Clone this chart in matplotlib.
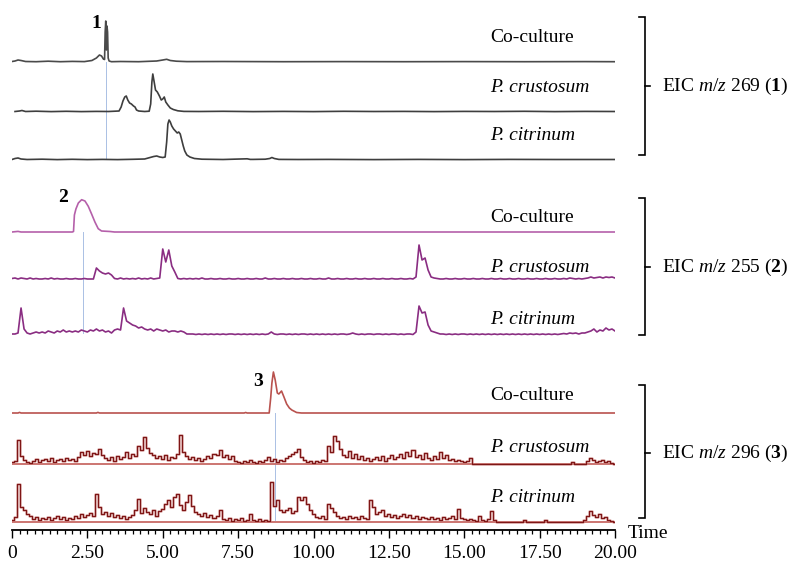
import numpy as np
import matplotlib
matplotlib.use("Agg")
import matplotlib.pyplot as plt

plt.rcParams['font.family'] = ['Liberation Serif', 'DejaVu Serif']
plt.rcParams['mathtext.fontset'] = 'custom'
plt.rcParams['mathtext.rm'] = 'Liberation Serif'
plt.rcParams['mathtext.it'] = 'Liberation Serif:italic'
plt.rcParams['mathtext.bf'] = 'Liberation Serif:bold'

# ---- data (retention time in min, intensity in relative units) ----
grid_t = np.round(np.arange(201) * 0.1, 1)   # 0.0 .. 20.0 min sampling

# EIC m/z 269 (1)
g1_co_t = [0, 0.1, 0.2, 0.3, 0.45, 0.8, 1.2, 1.6, 2.0, 2.4, 2.65, 2.8, 2.9, 2.97, 3.03, 3.07,
           3.09, 3.11, 3.13, 3.15, 3.17, 3.19, 3.22, 3.3, 3.6, 4.2, 4.8, 5.0, 5.13, 5.25, 5.45,
           5.8, 7, 9, 11, 13, 15, 17, 19, 20]
g1_co_h = [0.5, 1, 2, 1.5, 0.5, 0.3, 0.8, 0.3, 0.6, 0.4, 1.5, 4, 7, 6, 3, 2.5,
           30, 41, 12, 36, 30, 4, 1, 0.3, 0.5, 0.3, 1, 2, 2.7, 1.5, 0.8,
           0.4, 0.5, 0.3, 0.4, 0.3, 0.4, 0.3, 0.4, 0.3]

g1_cr_t = [0.1, 0.25, 0.33, 0.45, 0.8, 1.3, 1.8, 2.3, 2.8, 3.2, 3.55, 3.62, 3.68, 3.74, 3.79,
           3.84, 3.9, 3.96, 4.03, 4.08, 4.13, 4.2, 4.4, 4.55, 4.6, 4.64, 4.67, 4.71, 4.76, 4.82,
           4.89, 4.95, 5.0, 5.05, 5.1, 5.17, 5.25, 5.35, 5.5, 5.7, 6.2, 7, 8, 9, 10, 11, 12,
           13, 14, 15, 16, 17, 18, 19, 20]
g1_cr_h = [0.5, 1, 1.5, 0.5, 0.8, 0.4, 0.7, 0.4, 0.6, 0.5, 1, 5, 11, 15, 16,
           12, 9, 8, 6, 5, 2, 1, 0.5, 0.8, 8, 30, 38, 31, 22, 20,
           16, 12, 13, 15, 10, 7, 4, 2.5, 1.2, 0.6, 0.5, 0.7, 0.4, 0.6, 0.4, 0.7, 0.5,
           0.6, 0.4, 0.6, 0.5, 0.7, 0.4, 0.6, 0.5]

g1_ci_t = [0, 0.1, 0.2, 0.3, 0.5, 1, 1.5, 2, 2.5, 3, 3.5, 4, 4.4, 4.7, 4.8, 4.9, 5.0, 5.08,
           5.13, 5.17, 5.21, 5.25, 5.3, 5.36, 5.42, 5.48, 5.53, 5.58, 5.63, 5.68, 5.73, 5.8,
           5.9, 6.05, 6.3, 7, 7.8, 7.9, 8.0, 8.4, 8.55, 8.62, 8.7, 8.85, 9.5, 10.5, 12, 13.5,
           15, 16.5, 18, 19, 20]
g1_ci_h = [0.5, 1.5, 2, 1, 0.5, 0.8, 0.4, 0.7, 0.4, 0.6, 0.4, 0.7, 1, 3.5, 4, 3, 2.5, 3,
           18, 36, 40, 38, 34, 31, 29, 27, 28, 26, 20, 14, 9, 5,
           3, 1.5, 0.8, 0.5, 1.2, 0.6, 0.6, 0.8, 1.5, 2.5, 1.5, 0.6, 0.5, 0.6, 0.4, 0.6,
           0.4, 0.6, 0.5, 0.5, 0.5]

# EIC m/z 255 (2)
g2_co_t = [0, 0.2, 0.3, 1.0, 2.0, 2.04, 2.07, 2.12, 2.2, 2.31, 2.42, 2.53, 2.64, 2.75, 2.86,
           2.97, 3.25, 3.4, 20]
g2_co_h = [0, 0.6, 0, 0, 0, 0.5, 17, 23, 29, 32.3, 31, 25.7, 18, 10, 3.3,
           1, 0.5, 0, 0]

g2_cr_h = [1.5, 2, 1, 2, 1.5, 1, 2, 1, 1.5, 1,
           1, 1.5, 1, 2, 1, 1.5, 1, 1, 1.5, 1,
           1, 1.5, 1, 1, 1.5, 1, 1, 1, 12, 9,
           7, 6, 7, 5, 1.5, 1, 2, 1, 1.5, 1,
           1.5, 1, 2, 1, 1.5, 1, 2, 1, 1.5, 2,
           31, 18, 30, 14, 8, 1.5, 1, 1.5, 1, 1.5,
           1, 1.5, 1, 2, 1, 1, 1.5, 1, 1, 1.5,
           1, 1, 1.5, 1, 1, 1.5, 1, 1, 1.5, 1,
           1, 1.5, 1, 1, 2, 1, 1, 1.5, 1, 1,
           1.5, 1, 1, 1.5, 1, 1, 1.5, 1, 1, 1.5,
           1, 1, 1.5, 1, 1, 2, 1, 1, 1.5, 1,
           1, 1.5, 1, 1, 1.5, 1, 1, 1.5, 1, 1,
           1.5, 1, 1, 1.5, 1, 1, 1.5, 1, 1, 1.5,
           1, 1, 1.5, 1, 3, 35, 20, 22, 10, 3,
           2, 1.5, 1, 1, 1.5, 1, 1, 1.5, 1, 1,
           1.5, 1, 1, 1.5, 1, 1, 1.5, 1, 1, 1.5,
           1, 1, 1.5, 1, 1, 1.5, 1, 1, 1.5, 1,
           1, 1.5, 1, 1, 1.5, 1, 1, 1.5, 1, 1,
           1.5, 1, 1, 1.5, 1, 2, 1.5, 1, 1.5, 1,
           1.5, 2, 3, 2, 2.5, 3, 2, 3, 2.5, 3,
           2]

g2_ci_h = [1, 1, 2, 27, 6, 2, 1, 2, 3, 2,
           3, 2, 4, 3, 2, 4, 3, 5, 3, 4,
           3, 4, 3, 5, 4, 3, 5, 4, 6, 4,
           5, 3, 4, 2, 5, 6, 5, 27, 14, 12,
           10, 9, 7, 8, 6, 5, 6, 4, 6, 5,
           4, 5, 3, 4, 4, 3, 4, 3, 1, 1,
           1, 0.5, 1, 0.5, 1, 0.5, 1, 0.5, 1, 0.5,
           1, 0.5, 1, 1, 0.5, 1, 0.5, 1, 0.5, 1,
           0.5, 1, 0.5, 1, 0.5, 1, 3, 1, 0.5, 1,
           1, 0.5, 1, 0.5, 1, 0.5, 1, 1, 0.5, 1,
           0.5, 1, 0.5, 1, 0.5, 1, 0.5, 1, 0.5, 1,
           1, 0.5, 1, 2, 1, 0.5, 1, 0.5, 1, 1,
           0.5, 1, 1, 0.5, 1, 0.5, 1, 1, 0.5, 1,
           0.5, 1, 1, 0.5, 3, 29, 22, 23, 10, 4,
           3, 2, 1, 1, 0.5, 1, 0.5, 1, 0.5, 1,
           1, 0.5, 1, 0.5, 1, 0.5, 1, 0.5, 1, 0.5,
           1, 0.5, 1, 0.5, 1, 0.5, 1, 0.5, 1, 0.5,
           1, 0.5, 1, 0.5, 1, 0.5, 1, 0.5, 1, 0.5,
           1, 0.5, 1, 1.5, 1, 2, 1.5, 2, 1, 2,
           2, 3, 4, 6, 3, 5, 4, 7, 5, 6,
           4]

# EIC m/z 296 (3)
g3_co_t = [0, 0.2, 0.25, 0.3, 2.8, 2.85, 2.9, 7.7, 7.75, 7.8, 8.53, 8.58, 8.62, 8.67, 8.73,
           8.8, 8.85, 8.94, 9.02, 9.11, 9.2, 9.28, 9.44, 9.6, 20]
g3_co_h = [0, 0, 0.6, 0, 0, 0.6, 0, 0, 0.5, 0, 0, 15, 30, 41, 33,
           20, 19, 22, 16, 9, 5, 3, 0.5, 0, 0]

g3_cr_h = [2, 3, 24, 8, 4, 2, 1, 3, 5, 2,
           4, 5, 3, 6, 2, 4, 5, 3, 6, 4,
           5, 3, 7, 12, 9, 13, 8, 11, 10, 15,
           9, 6, 4, 7, 3, 8, 5, 7, 12, 6,
           10, 8, 18, 14, 27, 16, 11, 9, 6, 8,
           5, 9, 4, 7, 6, 10, 29, 12, 8, 5,
           7, 4, 6, 3, 5, 8, 6, 10, 9, 14,
           7, 9, 5, 8, 3, 2, 1, 3, 2, 4,
           2, 1, 3, 2, 4, 7, 3, 5, 2, 4,
           3, 6, 8, 10, 12, 15, 7, 4, 2, 3,
           1, 3, 2, 4, 3, 18, 12, 28, 23, 15,
           9, 7, 13, 6, 10, 5, 8, 4, 6, 3,
           5, 7, 4, 8, 3, 6, 9, 5, 7, 10,
           6, 12, 8, 14, 7, 9, 5, 11, 6, 4,
           8, 5, 12, 6, 9, 4, 5, 3, 4, 3,
           2, 3, 6, 0, 0, 0, 0, 0, 0, 0,
           0, 0, 0, 0, 0, 0, 0, 0, 0, 0,
           0, 0, 0, 0, 0, 0, 0, 0, 0, 0,
           0, 0, 0, 0, 0, 0, 2, 0, 0, 0,
           0, 3, 6, 4, 2, 3, 4, 2, 3, 1,
           0]

g3_ci_h = [2, 5, 38, 15, 12, 8, 6, 3, 5, 2,
           4, 3, 5, 2, 4, 6, 3, 5, 2, 4,
           3, 6, 4, 8, 5, 7, 9, 6, 28, 15,
           8, 10, 6, 9, 5, 7, 4, 6, 3, 5,
           7, 12, 23, 9, 14, 10, 8, 12, 6, 11,
           13, 18, 22, 15, 25, 28, 17, 12, 20, 27,
           16, 10, 8, 6, 9, 5, 7, 4, 6, 12,
           3, 2, 4, 1, 3, 2, 4, 1, 2, 8,
           2, 1, 3, 1, 2, 1, 40, 16, 22, 12,
           10, 12, 14, 9, 11, 25, 22, 25, 18, 12,
           8, 5, 4, 6, 3, 18, 14, 10, 6, 4,
           5, 3, 6, 4, 5, 3, 6, 4, 3, 22,
           15, 8, 10, 12, 6, 8, 5, 7, 4, 6,
           8, 5, 7, 4, 6, 3, 5, 4, 3, 5,
           3, 4, 2, 5, 3, 4, 6, 3, 13, 4,
           3, 2, 3, 2, 1, 6, 2, 1, 3, 11,
           2, 0, 0, 0, 0, 0, 0, 0, 0, 0,
           2, 0, 0, 0, 0, 0, 0, 2, 0, 0,
           0, 0, 0, 0, 0, 0, 0, 0, 0, 0,
           2, 6, 11, 7, 5, 8, 4, 5, 2, 1,
           0]

samples = ['Co-culture', 'P. crustosum', 'P. citrinum']
eic_labels = [r'EIC $\mathit{m/z}$ 269 ($\mathbf{1}$)',
              r'EIC $\mathit{m/z}$ 255 ($\mathbf{2}$)',
              r'EIC $\mathit{m/z}$ 296 ($\mathbf{3}$)']
peak_names = ['1', '2', '3']
peak_rt = [3.13, 2.37, 8.73]
tick_vals = [0, 2.5, 5, 7.5, 10, 12.5, 15, 17.5, 20]
tick_text = ['0', '2.50', '5.00', '7.50', '10.00', '12.50', '15.00', '17.50', '20.00']

# ---- layout (y in pixel rows of the figure) ----
baselines = [[62, 112, 160], [232, 280, 335], [413, 464, 522]]
label_y = [[37, 88, 136], [217, 268, 320], [395, 447, 498]]
bracket_y = [(17, 155, 86), (198, 335, 267), (385, 518, 453)]
peak_lab = [(2.79, 23), (1.69, 198), (8.15, 382)]

traces = [
    [(g1_co_t, g1_co_h), (g1_cr_t, g1_cr_h), (g1_ci_t, g1_ci_h)],
    [(g2_co_t, g2_co_h), (grid_t, g2_cr_h), (grid_t, g2_ci_h)],
    [(g3_co_t, g3_co_h), (grid_t, g3_cr_h), (grid_t, g3_ci_h)],
]
colors = [['#4a4a4a', '#3e3e3e', '#3e3e3e'],
          ['#b560aa', '#8a2d82', '#8a2d82'],
          ['#b9524e', '#7e1616', '#7e1616']]

fig = plt.figure(figsize=(7.91, 5.61), dpi=100)
ax = fig.add_axes([12 / 791, 31 / 561, 603 / 791, 530 / 561])
ax.set_xlim(0, 20)
ax.set_ylim(530, 0)

for g in range(3):
    # guide line through the compound peak
    ax.plot([peak_rt[g], peak_rt[g]], [baselines[g][0], baselines[g][2] - 2],
            color='#aac0e4', lw=0.7, zorder=1)
    for s in range(3):
        t, h = traces[g][s]
        y = baselines[g][s] - np.asarray(h, dtype=float)
        if g == 2 and s > 0:
            ax.plot([0, 20], [baselines[g][s]] * 2, color='#c86a66', lw=1.3, zorder=2)
            ax.plot(t, y, drawstyle='steps-mid', color='#cf8480', lw=1.8, alpha=0.6, zorder=2)
            ax.plot(t, y, drawstyle='steps-mid', color=colors[g][s], lw=0.9, zorder=3)
        else:
            ax.plot(t, y, color=colors[g][s], lw=1.2, zorder=3)
        ax.text(15.85, label_y[g][s], samples[s], fontsize=14,
                style='normal' if s == 0 else 'italic', ha='left', va='center')
    # right bracket
    top, bot, mid = bracket_y[g]
    ax.plot([20.8, 21.0, 21.0, 20.8], [top, top, bot, bot], color='black', lw=1.2,
            clip_on=False, solid_joinstyle='miter')
    ax.plot([21.0, 21.16], [mid, mid], color='black', lw=1.2, clip_on=False)
    ax.text(21.56, mid, eic_labels[g], fontsize=14, ha='left', va='center')
    ax.text(peak_lab[g][0], peak_lab[g][1], peak_names[g], fontsize=14,
            fontweight='bold', ha='center', va='center')

for side in ['left', 'right', 'top']:
    ax.spines[side].set_visible(False)
ax.spines['bottom'].set_linewidth(1.3)
ax.set_yticks([])
ax.set_xticks(tick_vals)
ax.set_xticklabels(tick_text, fontsize=14)
ax.set_xticks(np.arange(0, 20.01, 0.25), minor=True)
ax.tick_params(axis='x', which='major', direction='out', length=5.5, width=1.0, pad=5)
ax.tick_params(axis='x', which='minor', direction='out', length=3, width=0.9)
ax.text(20.43, 534, 'Time', fontsize=14, ha='left', va='center')

fig.savefig('out.png', dpi=100)
